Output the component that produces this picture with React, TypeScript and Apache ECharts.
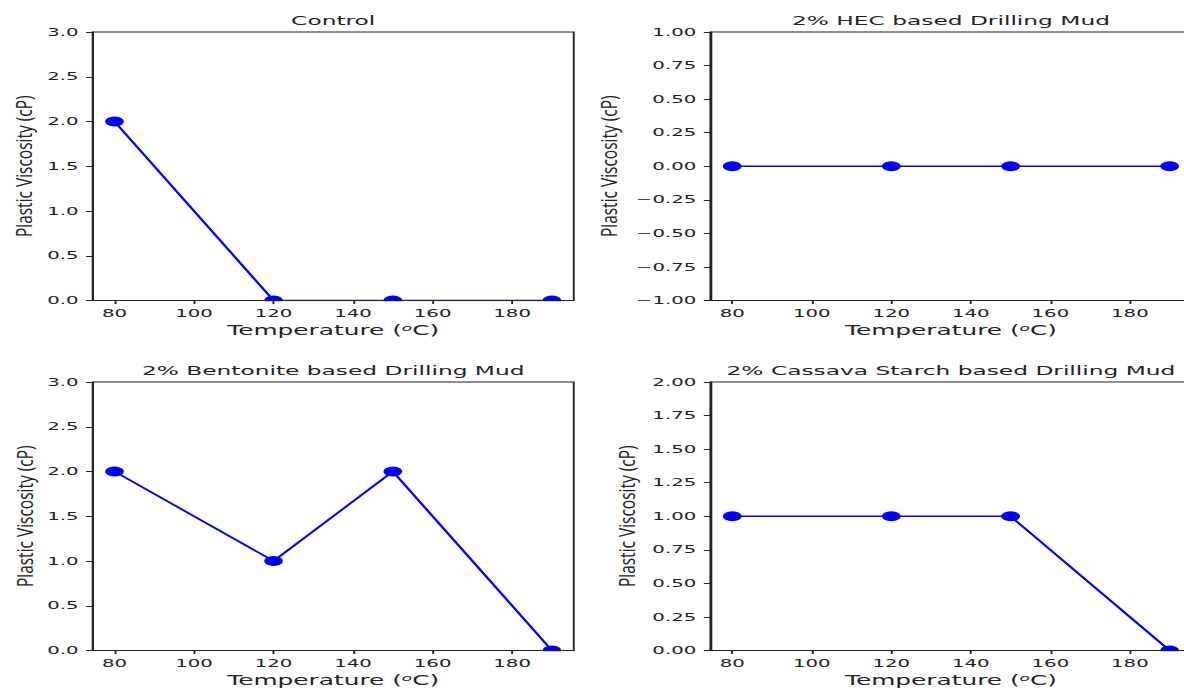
import React, { useEffect, useRef } from "react";
import * as echarts from "echarts";

// ---- data ----
const temperatures = [80, 120, 150, 190];
const controlPV = [2, 0, 0, 0];
const hecPV = [0, 0, 0, 0];
const bentonitePV = [2, 1, 2, 0];
const cassavaPV = [1, 1, 1, 0];
const xTicks = [80, 100, 120, 140, 160, 180];
const titles = [
  "Control",
  "2% HEC based Drilling Mud",
  "2% Bentonite based Drilling Mud",
  "2% Cassava Starch based Drilling Mud",
];
const yMins = [0, -1, 0, 0];
const yMaxs = [3, 1, 3, 2];
const yIntervals = [0.5, 0.25, 0.5, 0.25];
const yDecimals = [1, 2, 1, 2];
const yLabelText = "Plastic Viscosity (cP)";
const xLabelText = "Temperature ({sup|o}C)";

const VIEW_W = 630; // visible width before the horizontal stretch
const BASE_W = 670; // chart canvas width (wider so right-hand axes are not squeezed)
const H = 690;
const STRETCH = 1184 / VIEW_W;
const TXT = "#222";
const LINE = "#222";
const BLUE = "#0000ff";

const grids = [
  { left: 49.3, top: 32, width: 256, height: 268.5 },
  { left: 378, top: 32, width: 256, height: 268.5 },
  { left: 49.3, top: 382, width: 256, height: 268.5 },
  { left: 378, top: 382, width: 256, height: 268.5 },
];
const yLabelX = [12.4, 323.4, 12.8, 333];

export default function App() {
  const ref = useRef<HTMLDivElement>(null);
  useEffect(() => {
    if (!ref.current) return;
    const chart = echarts.init(ref.current, null, { renderer: "svg" });

    const yFont = 12;
    const canvas = document.createElement("canvas");
    const ctx = canvas.getContext("2d");
    let w = 109.7;
    if (ctx) {
      ctx.font = `${yFont}px "Open Sans"`;
      w = ctx.measureText(yLabelText).width || w;
    }
    const yScale = 141.7 / w;

    const series = [controlPV, hecPV, bentonitePV, cassavaPV];

    const graphicEls: any[] = [];
    grids.forEach((g, i) => {
      graphicEls.push({
        type: "text",
        x: g.left + g.width / 2,
        y: g.top - 11,
        style: {
          text: titles[i],
          fontFamily: "DejaVu Sans",
          fontSize: 12.4,
          fill: TXT,
          textAlign: "center",
          textVerticalAlign: "middle",
        },
        z: 20,
      });
      graphicEls.push({
        type: "text",
        x: yLabelX[i],
        y: g.top + g.height / 2,
        rotation: Math.PI / 2,
        scaleX: yScale,
        style: {
          text: yLabelText,
          fontFamily: "Open Sans",
          fontSize: yFont,
          fill: TXT,
          textAlign: "center",
          textVerticalAlign: "middle",
        },
        z: 20,
      });
      // mask below the bottom spine so markers on y=min appear clipped
      graphicEls.push({
        type: "rect",
        shape: { x: g.left - 0.5, y: g.top + g.height + 0.8, width: g.width + 1, height: 6 },
        style: { fill: "#fff" },
        z: 5,
        silent: true,
      });
    });

    const option: any = {
      animation: false,
      backgroundColor: "#fff",
      grid: grids.map((g) => ({
        ...g,
        show: true,
        borderColor: LINE,
        borderWidth: 1,
        backgroundColor: "transparent",
        containLabel: false,
      })),
      xAxis: grids.map((_, i) => ({
        type: "value",
        gridIndex: i,
        min: 74.5,
        max: 195.5,
        z: 10,
        name: xLabelText,
        nameLocation: "middle",
        nameGap: 23,
        nameTextStyle: {
          fontFamily: "DejaVu Sans",
          fontSize: 13.2,
          lineHeight: 15,
          color: TXT,
          rich: {
            sup: {
              fontFamily: "DejaVu Sans",
              fontSize: 9,
              fontStyle: "italic",
              lineHeight: 9,
              padding: [0, 0, 6, 0],
              color: TXT,
              verticalAlign: "bottom",
            },
          },
        },
        axisLine: { show: true, onZero: false, lineStyle: { color: LINE, width: 1 } },
        axisTick: {
          show: true,
          inside: false,
          length: 3.5,
          customValues: xTicks,
          lineStyle: { color: LINE, width: 1 },
        },
        axisLabel: {
          show: true,
          margin: 7,
          customValues: xTicks,
          fontFamily: "DejaVu Sans",
          fontSize: 10.5,
          color: TXT,
        },
        splitLine: { show: false },
      })),
      yAxis: grids.map((_, i) => ({
        type: "value",
        gridIndex: i,
        min: yMins[i],
        max: yMaxs[i],
        interval: yIntervals[i],
        z: 10,
        axisLine: { show: true, onZero: false, lineStyle: { color: LINE, width: 1 } },
        axisTick: { show: true, inside: false, length: 3.5, lineStyle: { color: LINE, width: 1 } },
        axisLabel: {
          show: true,
          margin: 7.5,
          fontFamily: "DejaVu Sans",
          fontSize: 10.5,
          color: TXT,
          formatter: (v: number) => {
            const s = (Math.abs(v) < 1e-9 ? 0 : v).toFixed(yDecimals[i]);
            return s.replace("-", "\u2212");
          },
        },
        splitLine: { show: false },
      })),
      series: series.map((vals, i) => ({
        type: "line",
        xAxisIndex: i,
        yAxisIndex: i,
        data: temperatures.map((t, j) => [t, vals[j]]),
        symbol: "circle",
        symbolSize: 10,
        clip: false,
        itemStyle: { color: BLUE },
        lineStyle: { color: BLUE, width: 1.5 },
        z: 2,
      })),
      graphic: { elements: graphicEls },
    };

    chart.setOption(option);
    return () => chart.dispose();
  }, []);

  return (
    <div
      style={{
        position: "absolute",
        left: 0,
        top: 0,
        width: 1184,
        height: H,
        overflow: "hidden",
        background: "#fff",
      }}
    >
      <div
        ref={ref}
        style={{
          width: BASE_W,
          height: H,
          transform: `scaleX(${STRETCH})`,
          transformOrigin: "0 0",
        }}
      />
    </div>
  );
}
